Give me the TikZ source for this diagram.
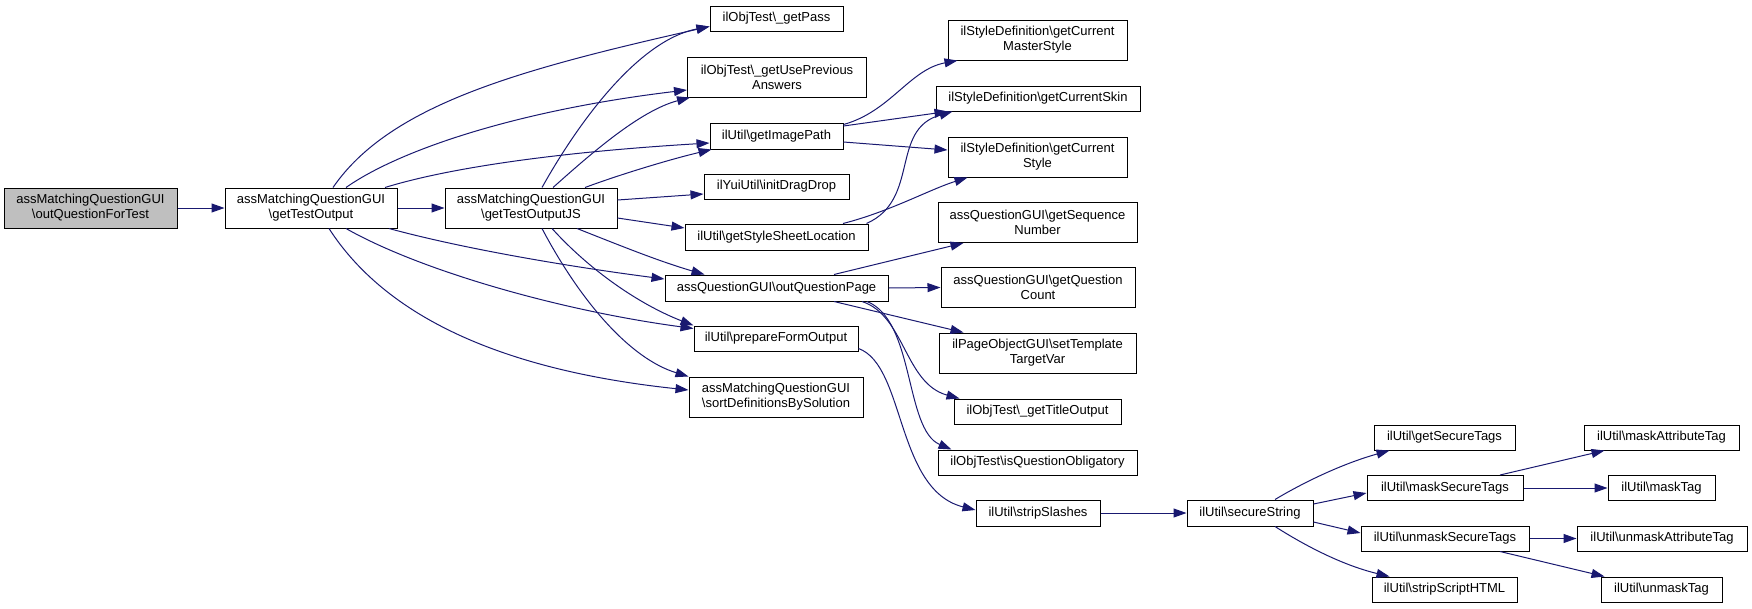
\documentclass[tikz,border=0pt]{standalone}
\usepackage{fontspec}
\setmainfont{Liberation Sans}
\usetikzlibrary{arrows.meta,positioning}
\definecolor{midnight}{HTML}{191970}
\definecolor{rootgray}{HTML}{BFBFBF}

\begin{document}
\begin{tikzpicture}[x=1pt,y=-1pt,
  box/.style={draw=black,fill=white,line width=1pt,inner sep=0pt,align=center,minimum height=25pt,font=\fontsize{13}{15}\selectfont},
  tall/.style={minimum height=40pt},
  root/.style={fill=rootgray},
  edge/.style={draw=midnight,line width=1pt,-{Triangle[length=13pt,width=9pt]}}]
\useasboundingbox (0,0) rectangle (1752,608);

\node[box,tall,root,minimum width=173pt] (q) at (90.5,208) {assMatchingQuestionGUI\\\textbackslash outQuestionForTest};
\node[box,tall,minimum width=172pt] (gto) at (311,208) {assMatchingQuestionGUI\\\textbackslash getTestOutput};
\node[box,tall,minimum width=172pt] (gtojs) at (531,208) {assMatchingQuestionGUI\\\textbackslash getTestOutputJS};

\node[box,minimum width=133pt] (pass) at (776.5,18.5) {ilObjTest\textbackslash\_getPass};
\node[box,tall,minimum width=179pt] (prev) at (777,77) {ilObjTest\textbackslash\_getUsePrevious\\Answers};
\node[box,minimum width=133pt,minimum height=26pt] (img) at (776.5,136) {ilUtil\textbackslash getImagePath};
\node[box,minimum width=145pt] (drag) at (776.5,186.5) {ilYuiUtil\textbackslash initDragDrop};
\node[box,minimum width=183pt,minimum height=26pt] (css) at (776.5,237) {ilUtil\textbackslash getStyleSheetLocation};
\node[box,minimum width=223pt,minimum height=26pt] (oqp) at (776.5,288) {assQuestionGUI\textbackslash outQuestionPage};
\node[box,minimum width=164pt] (pfo) at (776,338.5) {ilUtil\textbackslash prepareFormOutput};
\node[box,tall,minimum width=174pt] (sort) at (776,397) {assMatchingQuestionGUI\\\textbackslash sortDefinitionsBySolution};

\node[box,tall,minimum width=179pt] (master) at (1037.5,40) {ilStyleDefinition\textbackslash getCurrent\\MasterStyle};
\node[box,minimum width=204pt] (skin) at (1038,98.5) {ilStyleDefinition\textbackslash getCurrentSkin};
\node[box,tall,minimum width=179pt] (style) at (1037.5,157) {ilStyleDefinition\textbackslash getCurrent\\Style};
\node[box,tall,minimum width=199pt] (seq) at (1037.5,222.5) {assQuestionGUI\textbackslash getSequence\\Number};
\node[box,tall,minimum width=194pt] (count) at (1038,287.5) {assQuestionGUI\textbackslash getQuestion\\Count};
\node[box,tall,minimum width=197pt] (tvar) at (1037.5,353) {ilPageObjectGUI\textbackslash setTemplate\\TargetVar};
\node[box,minimum width=167pt] (title) at (1037.5,411.5) {ilObjTest\textbackslash\_getTitleOutput};
\node[box,minimum width=199pt] (oblig) at (1037.5,462.5) {ilObjTest\textbackslash isQuestionObligatory};
\node[box,minimum width=124pt,minimum height=26pt] (slash) at (1038,513) {ilUtil\textbackslash stripSlashes};

\node[box,minimum width=126pt,minimum height=26pt] (secure) at (1250,513) {ilUtil\textbackslash secureString};

\node[box,minimum width=141pt] (gst) at (1444.5,437.5) {ilUtil\textbackslash getSecureTags};
\node[box,minimum width=156pt] (mst) at (1445,488) {ilUtil\textbackslash maskSecureTags};
\node[box,minimum width=168pt] (ust) at (1445,538.5) {ilUtil\textbackslash unmaskSecureTags};
\node[box,minimum width=145pt] (ssh) at (1444.5,589.5) {ilUtil\textbackslash stripScriptHTML};

\node[box,minimum width=155pt] (mat) at (1661.5,437.5) {ilUtil\textbackslash maskAttributeTag};
\node[box,minimum width=107pt] (mtag) at (1661.5,488) {ilUtil\textbackslash maskTag};
\node[box,minimum width=170pt] (uat) at (1662,538.5) {ilUtil\textbackslash unmaskAttributeTag};
\node[box,minimum width=121pt] (utag) at (1661.5,589.5) {ilUtil\textbackslash unmaskTag};

\draw[edge] (q) -- (gto);
\draw[edge] (gto) -- (gtojs);
\draw[edge] ([xshift=22pt]gto.north) .. controls +(57,-83) and +(-190,43) .. ([yshift=-8pt]pass.west);
\draw[edge] ([xshift=35pt]gto.north) .. controls +(54,-38) and +(-168,20) .. ([yshift=-13pt]prev.west);
\draw[edge] ([xshift=74pt]gto.north) .. controls +(65,-20) and +(-150,9) .. ([yshift=-7pt]img.west);
\draw[edge] ([xshift=78pt]gto.south) .. controls +(81,22) and +(-85,-11) .. ([yshift=9pt]oqp.west);
\draw[edge] ([xshift=35pt]gto.south) .. controls +(74,42) and +(-134,-18) .. ([yshift=10pt]pfo.west);
\draw[edge] ([xshift=18pt]gto.south) .. controls +(56,87) and +(-189,-20) .. ([yshift=7pt]sort.west);
\draw[edge] ([xshift=11pt]gtojs.north) .. controls +(38,-68) and +(-70,13.5) .. ([yshift=-8pt]pass.west);
\draw[edge] ([xshift=22pt]gtojs.north) .. controls +(37,-33) and +(-50,13) .. ([xshift=3pt]prev.south west);
\draw[edge] ([xshift=54pt]gtojs.north) .. controls +(35,-13) and +(-42,10) .. ([xshift=2pt]img.south west);
\draw[edge] ([yshift=8pt]gtojs.east) -- ([yshift=-7.5pt]drag.west);
\draw[edge] ([yshift=-10pt]gtojs.east) -- ([yshift=9pt]css.west);
\draw[edge] ([xshift=46pt]gtojs.south) .. controls +(43,17) and +(-45,-13) .. ([xshift=-72pt]oqp.north);
\draw[edge] ([xshift=21pt]gtojs.south) .. controls +(38,42) and +(-54,-21) .. (pfo.north west);
\draw[edge] ([xshift=11pt]gtojs.south) .. controls +(38,72) and +(-59,-18) .. (sort.north west);
\draw[edge] ([yshift=-2pt]img.north east) .. controls +(47,-13) and +(-48,9) .. ([xshift=10pt]master.south west);
\draw[edge] ([yshift=10pt]img.east) -- ([xshift=12pt]skin.south west);
\draw[edge] ([yshift=-6pt]img.east) -- ([yshift=7pt]style.west);
\draw[edge] ([xshift=-2pt]css.north east) .. controls +(54,-24) and +(-63,18) .. ([xshift=17pt]skin.south west);
\draw[edge] ([xshift=66.5pt]css.north) .. controls +(47,-12) and +(-38,12) .. ([xshift=20pt]style.south west);
\draw[edge] ([xshift=57.5pt]oqp.north) -- ([xshift=26pt]seq.south west);
\draw[edge] (oqp.east) -- (count.west);
\draw[edge] ([xshift=57.5pt]oqp.south) -- ([xshift=25pt]tvar.north west);
\draw[edge] ([xshift=85.5pt]oqp.south) .. controls +(43,14) and +(-55,-15) .. ([xshift=6pt]title.north west);
\draw[edge] ([xshift=90.5pt]oqp.south) .. controls +(48,19) and +(-47,-20) .. ([xshift=14pt]oblig.north west);
\draw[edge] ([yshift=3pt]pfo.south east) .. controls +(47,17) and +(-80,-20) .. ([yshift=3pt]slash.west);
\draw[edge] (slash) -- (secure);
\draw[edge] ([xshift=25pt]secure.north) .. controls +(25,-15) and +(-50,14) .. ([xshift=16pt]gst.south west);
\draw[edge] ([yshift=9pt]secure.east) -- ([yshift=-5pt]mst.west);
\draw[edge] ([yshift=-9pt]secure.east) -- ([yshift=5.5pt]ust.west);
\draw[edge] ([xshift=25pt]secure.south) .. controls +(25,16) and +(-50,-12) .. ([xshift=18pt]ssh.north west);
\draw[edge] ([xshift=55pt]mst.north) -- ([xshift=21pt]mat.south west);
\draw[edge] (mst) -- (mtag);
\draw[edge] (ust) -- (uat);
\draw[edge] ([xshift=55pt]ust.south) -- ([xshift=4pt]utag.north west);
\end{tikzpicture}
\end{document}
